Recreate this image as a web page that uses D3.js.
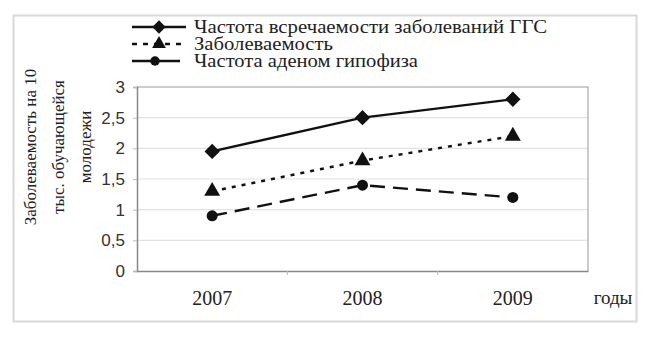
<!DOCTYPE html>
<html><head><meta charset="utf-8"><script src="https://cdn.jsdelivr.net/npm/d3@7"></script></head>
<body style="margin:0">
<script>
// chart data
const years = ["2007", "2008", "2009"];
const seriesNames = [
    "Частота всречаемости заболеваний ГГС",
    "Заболеваемость",
    "Частота аденом гипофиза"
];
const ggsValues = [1.95, 2.5, 2.8];
const incidenceValues = [1.3, 1.8, 2.2];
const adenomaValues = [0.9, 1.4, 1.2];
const yTicks = [0, 0.5, 1, 1.5, 2, 2.5, 3];
const yTitleLines = ["Заболеваемость на 10", "тыс. обучающейся", "молодежи"];
const xTitle = "годы";

const SERIF = '"Liberation Serif"';
const SANS = '"Liberation Sans"';

const width = 650, height = 337;
const plot = {left: 137, right: 588, top: 87, bottom: 271};
// legend text is stretched wide in the original
const legendTextWidths = [353, 139, 224];

const series = [
    {name: seriesNames[0], values: ggsValues, dash: null, symbol: d3.symbolDiamond2, size: 150},
    {name: seriesNames[1], values: incidenceValues, dash: "4,6", symbol: d3.symbolTriangle, size: 110},
    {name: seriesNames[2], values: adenomaValues, dash: "15,8", symbol: d3.symbolCircle, size: 95}
];

const svg = d3.select("body").append("svg")
    .attr("width", width)
    .attr("height", height);

// outer frame
svg.append("rect")
    .attr("x", 13.5).attr("y", 15.5)
    .attr("width", 623).attr("height", 306)
    .attr("fill", "#fff")
    .attr("stroke", "#d8d8d8")
    .attr("stroke-width", 2);

const x = d3.scaleBand()
    .domain(years)
    .range([plot.left, plot.right]);

const y = d3.scaleLinear()
    .domain([0, 3])
    .range([plot.bottom, plot.top]);

// gridlines
svg.append("g")
    .selectAll("line")
    .data(yTicks.filter(d => d > 0))
    .join("line")
    .attr("x1", plot.left).attr("x2", plot.right)
    .attr("y1", d => y(d)).attr("y2", d => y(d))
    .attr("stroke", "#e2e2e2")
    .attr("stroke-width", 1.2);

// plot border (top, right)
svg.append("path")
    .attr("d", `M${plot.left},${plot.top}H${plot.right}V${plot.bottom}`)
    .attr("fill", "none")
    .attr("stroke", "#a8a8a8")
    .attr("stroke-width", 1.2);

// y axis
const yAxis = svg.append("g")
    .attr("transform", `translate(${plot.left},0)`)
    .call(d3.axisLeft(y).tickValues(yTicks).tickSize(4).tickPadding(8)
        .tickFormat(d => String(d).replace(".", ",")));
yAxis.select(".domain").attr("stroke", "#888").attr("stroke-width", 1.5);
yAxis.selectAll(".tick line").attr("stroke", "#bbb");
yAxis.selectAll("text")
    .attr("font-size", 17)
    .style("font-family", SANS)
    .attr("fill", "#333");

// x axis
const xAxis = svg.append("g")
    .attr("transform", `translate(0,${plot.bottom})`)
    .call(d3.axisBottom(x).tickSize(0).tickPadding(20));
xAxis.select(".domain").attr("stroke", "#888").attr("stroke-width", 1.5);
xAxis.selectAll("text")
    .attr("font-size", 20)
    .style("font-family", SERIF)
    .attr("fill", "#222");

// category separators
svg.append("g")
    .selectAll("line")
    .data(years.slice(1))
    .join("line")
    .attr("x1", d => x(d)).attr("x2", d => x(d))
    .attr("y1", plot.bottom).attr("y2", plot.bottom + 4)
    .attr("stroke", "#bbb");

svg.append("text")
    .attr("x", 613)
    .attr("y", 304)
    .attr("text-anchor", "middle")
    .attr("font-size", 19)
    .style("font-family", SERIF)
    .attr("fill", "#222")
    .text(xTitle);

// y title
svg.append("g")
    .attr("transform", "translate(0,147) rotate(-90)")
    .selectAll("text")
    .data(yTitleLines)
    .join("text")
    .attr("x", 0)
    .attr("y", (d, i) => 36 + i * 27.5)
    .attr("text-anchor", "middle")
    .attr("font-size", 17)
    .style("font-family", SERIF)
    .attr("fill", "#222")
    .text(d => d);

// series lines and markers
const cx = d => x(d) + x.bandwidth() / 2;
const line = d3.line()
    .x((d, i) => cx(years[i]))
    .y(d => y(d));

series.forEach(s => {
    svg.append("path")
        .datum(s.values)
        .attr("d", line)
        .attr("fill", "none")
        .attr("stroke", "#111")
        .attr("stroke-width", 2.4)
        .attr("stroke-dasharray", s.dash);

    svg.append("g")
        .selectAll("path")
        .data(s.values)
        .join("path")
        .attr("transform", (d, i) => `translate(${cx(years[i])},${y(d)})`)
        .attr("d", d3.symbol(s.symbol, s.size))
        .attr("fill", "#111");
});

// legend
const legend = svg.append("g")
    .selectAll("g")
    .data(series)
    .join("g")
    .attr("transform", (d, i) => `translate(0,${27 + i * 17})`);

legend.append("line")
    .attr("x1", 132).attr("x2", (d, i) => i === 2 ? 180 : 186)
    .attr("y1", 0).attr("y2", 0)
    .attr("stroke", "#111")
    .attr("stroke-width", 2.4)
    .attr("stroke-dasharray", (d, i) => i === 1 ? "5,6" : null);

legend.append("path")
    .attr("transform", (d, i) => `translate(${i === 2 ? 155 : 159},0)`)
    .attr("d", d => d3.symbol(d.symbol, d.size * 0.75)())
    .attr("fill", "#111");

legend.append("text")
    .attr("x", 194)
    .attr("y", 0)
    .attr("dy", "0.33em")
    .attr("font-size", 18)
    .attr("textLength", (d, i) => legendTextWidths[i])
    .attr("lengthAdjust", "spacingAndGlyphs")
    .style("font-family", SERIF)
    .attr("fill", "#222")
    .text(d => d.name);
</script>
</body>
</html>
